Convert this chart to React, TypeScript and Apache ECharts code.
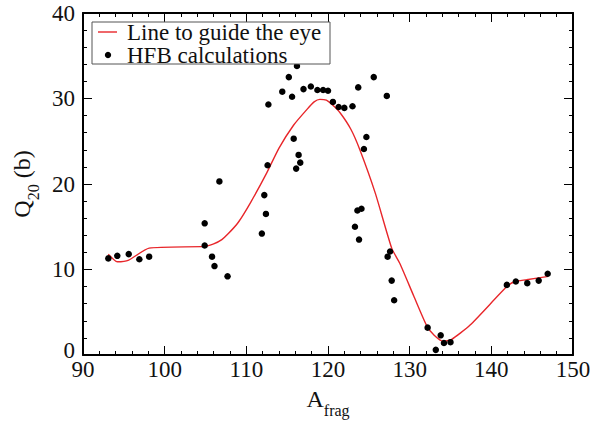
import React, { useEffect, useRef } from "react";
import * as echarts from "echarts";

const hfbA = [
  93.1, 94.2, 95.6, 96.9, 98.1, 104.9, 104.9, 105.8, 106.1, 106.7, 107.7,
  111.9, 112.2, 112.4, 112.6, 112.7, 114.4, 115.2, 115.6, 115.8, 116.1, 116.2,
  116.4, 116.6, 117.0, 117.9, 118.7, 119.4, 120.0, 120.6, 121.3, 122.0, 123.0,
  123.3, 123.6, 123.7, 123.8, 124.1, 124.4, 124.7, 125.6, 127.2, 127.3, 127.6,
  127.8, 128.1, 132.2, 133.2, 133.8, 134.2, 135.0, 141.9, 143.0, 144.4, 145.8,
  146.9,
];
const hfbQ = [
  11.3, 11.6, 11.8, 11.2, 11.5, 15.4, 12.8, 11.5, 10.4, 20.3, 9.2,
  14.2, 18.7, 16.5, 22.2, 29.3, 30.8, 32.5, 30.2, 25.3, 21.8, 33.8,
  23.4, 22.5, 31.1, 31.4, 31.0, 31.0, 30.9, 29.6, 29.0, 28.9, 29.1,
  15.0, 16.9, 31.3, 13.5, 17.1, 24.1, 25.5, 32.5, 30.3, 11.5, 12.1,
  8.7, 6.4, 3.2, 0.6, 2.3, 1.4, 1.5, 8.2, 8.6, 8.4, 8.7,
  9.5,
];

const guideA = [
  93.1, 94.2, 95.6, 98.1, 104.9, 106.0, 107.0, 107.8, 109.0, 110.5, 112.5,
  114.0, 115.8, 117.4, 118.3, 119.0, 119.8, 120.6, 121.5, 122.8, 123.9, 125.8,
  127.8, 128.8, 130.5, 132.1, 133.0, 134.1, 135.1, 137.4, 141.9, 142.9, 144.3,
  147.0,
];
const guideQ = [
  11.8, 10.9, 11.1, 12.5, 12.7, 13.0, 13.5, 14.2, 15.5, 17.8, 21.3,
  24.2, 26.9, 28.7, 29.6, 29.9, 29.8, 29.2, 28.3, 26.4, 24.0, 18.9,
  12.5, 10.7, 6.9, 3.4, 2.3, 1.6, 1.8, 3.5, 8.0, 8.6, 8.8,
  9.2,
];

const xTicks = { min: 90, max: 150, interval: 10 };
const yTicks = { min: 0, max: 40, interval: 10 };

const FONT = "'Liberation Serif', 'DejaVu Serif', serif";

export default function App() {
  const ref = useRef<HTMLDivElement>(null);
  useEffect(() => {
    if (!ref.current) return;
    const chart = echarts.init(ref.current, undefined, { renderer: "svg" });
    const scatterData = hfbA.map((a, i) => [a, hfbQ[i]]);
    const lineData = guideA.map((a, i) => [a, guideQ[i]]);
    const axisCommon = {
      axisLine: { show: true, onZero: false, lineStyle: { color: "#000", width: 2 } },
      axisTick: { show: true, inside: true, length: 9, lineStyle: { color: "#000", width: 1 } },
      minorTick: { show: true, splitNumber: 5, length: 4, lineStyle: { color: "#000", width: 1 } },
      splitLine: { show: false },
      minorSplitLine: { show: false },
    };
    chart.setOption({
      animation: false,
      backgroundColor: "#fff",
      grid: {
        left: 83,
        right: 28,
        top: 13,
        bottom: 66,
        containLabel: false,
        outerBoundsMode: "none",
      },
      xAxis: [
        {
          type: "value",
          ...xTicks,
          ...axisCommon,
          axisLabel: { color: "#111", fontFamily: FONT, fontSize: 23, margin: 3 },
          name: "{a|A}{s|frag}",
          nameLocation: "middle",
          nameGap: 32,
          nameTextStyle: {
            rich: {
              a: { fontFamily: FONT, fontSize: 24, color: "#111", lineHeight: 24, verticalAlign: "top" },
              s: { fontFamily: FONT, fontSize: 16, color: "#111", lineHeight: 31, verticalAlign: "bottom" },
            },
          },
        },
        {
          type: "value",
          position: "top",
          ...xTicks,
          ...axisCommon,
          axisLabel: { show: false },
        },
      ],
      yAxis: [
        {
          type: "value",
          ...yTicks,
          ...axisCommon,
          axisLabel: {
            color: "#111",
            fontFamily: FONT,
            fontSize: 23,
            margin: 8,
            formatter: (v: number) => (v === 0 ? "{z|0}" : String(v)),
            rich: {
              z: { color: "#111", fontFamily: FONT, fontSize: 23, padding: [0, 0, 9, 0] },
            },
          },
          name: "{a|Q}{s|20}{a| (b)}",
          nameLocation: "middle",
          nameGap: 30,
          nameTextStyle: {
            rich: {
              a: { fontFamily: FONT, fontSize: 24, color: "#111", lineHeight: 24, verticalAlign: "top" },
              s: { fontFamily: FONT, fontSize: 16, color: "#111", lineHeight: 31, verticalAlign: "bottom" },
            },
          },
        },
        {
          type: "value",
          position: "right",
          ...yTicks,
          ...axisCommon,
          axisLabel: { show: false },
        },
      ],
      series: [
        {
          name: "Line to guide the eye",
          type: "line",
          data: lineData,
          showSymbol: false,
          symbol: "none",
          smooth: 0.2,
          lineStyle: { color: "#e8262a", width: 1.4 },
          z: 2,
        },
        {
          name: "HFB calculations",
          type: "scatter",
          data: scatterData,
          symbol: "circle",
          symbolSize: 6.5,
          itemStyle: { color: "#000", opacity: 1 },
          z: 3,
        },
      ],
      graphic: [
        {
          type: "rect",
          shape: { x: 92, y: 22, width: 238, height: 42 },
          style: { fill: "#fff", stroke: "#555", lineWidth: 1 },
          z: 10,
        },
        {
          type: "line",
          shape: { x1: 98, y1: 32, x2: 117, y2: 32 },
          style: { stroke: "#e8262a", lineWidth: 1.4 },
          z: 11,
        },
        {
          type: "circle",
          shape: { cx: 108, cy: 55, r: 3.2 },
          style: { fill: "#000" },
          z: 11,
        },
        {
          type: "text",
          x: 127,
          y: 32,
          style: {
            text: "Line to guide the eye",
            fontFamily: FONT,
            fontSize: 23,
            lineHeight: 20,
            fill: "#111",
            verticalAlign: "middle",
          },
          z: 11,
        },
        {
          type: "text",
          x: 127,
          y: 55.5,
          style: {
            text: "HFB calculations",
            fontFamily: FONT,
            fontSize: 23,
            lineHeight: 20,
            fill: "#111",
            verticalAlign: "middle",
          },
          z: 11,
        },
      ],
    });
    return () => chart.dispose();
  }, []);
  return <div ref={ref} style={{ width: 601, height: 421, position: "absolute", left: 0, top: 0 }} />;
}
